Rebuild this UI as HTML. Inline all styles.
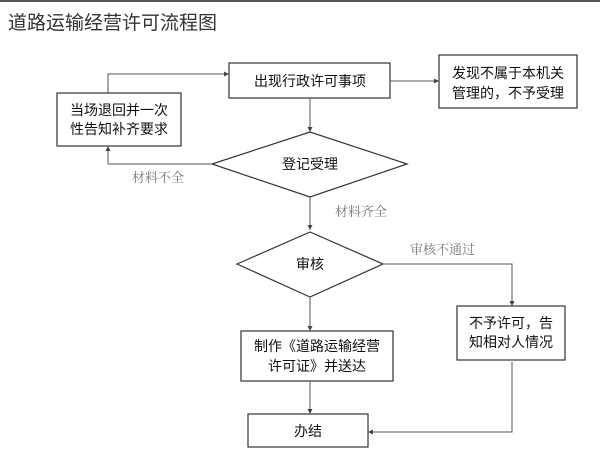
<!DOCTYPE html>
<html><head><meta charset="utf-8"><style>
body{margin:0;width:600px;height:455px;background:#fff;overflow:hidden;font-family:"Liberation Sans","Noto Sans CJK SC",sans-serif}
</style></head><body>
<svg width="600" height="455" xmlns="http://www.w3.org/2000/svg" font-family="Liberation Sans, Noto Sans CJK SC, sans-serif">
<defs><marker id="a" markerWidth="6" markerHeight="6" refX="5" refY="3" orient="auto"><path d="M0,0.5 L5,3 L0,5.5z" fill="#444"/></marker></defs>
<rect x="0" y="0" width="600" height="2" fill="#555"/>
<text x="8" y="29" font-size="19" fill="#333">道路运输经营许可流程图</text>
<g fill="#fff" stroke="#333" stroke-width="1.2">
<rect x="229" y="63" width="161" height="35"/>
<rect x="439" y="55" width="138" height="53"/>
<rect x="57" y="93" width="124" height="53"/>
<polygon points="212,164 310,132 407,164 310,197"/>
<polygon points="237,264 310,232 383,264 310,297"/>
<rect x="241" y="331" width="152" height="50"/>
<rect x="457" y="306" width="108" height="54"/>
<rect x="248" y="414" width="120" height="33"/>
</g>
<g fill="none" stroke="#555" stroke-width="1" marker-end="url(#a)">
<polyline points="108,93 108,74 229,74"/>
<line x1="390" y1="81" x2="439" y2="81"/>
<line x1="310" y1="98" x2="310" y2="132"/>
<polyline points="212,164 108,164 108,146"/>
<line x1="310" y1="197" x2="310" y2="230"/>
<polyline points="383,264 512,264 512,306"/>
<line x1="310" y1="297" x2="310" y2="331"/>
<line x1="310" y1="381" x2="310" y2="414"/>
<polyline points="512,362 512,432 368,432"/>
</g>
<g font-size="14" fill="#111" text-anchor="middle">
<text x="310" y="86">出现行政许可事项</text>
<text x="508" y="78">发现不属于本机关</text>
<text x="508" y="98">管理的，不予受理</text>
<text x="119" y="115">当场退回并一次</text>
<text x="119" y="134">性告知补齐要求</text>
<text x="310" y="169">登记受理</text>
<text x="310" y="269">审核</text>
<text x="317" y="351">制作《道路运输经营</text>
<text x="317" y="371">许可证》并送达</text>
<text x="511" y="328">不予许可，告</text>
<text x="511" y="347">知相对人情况</text>
<text x="308" y="436">办结</text>
</g>
<g font-size="13" fill="#777" font-family="Liberation Serif, Noto Serif CJK SC, serif">
<text x="132" y="182">材料不全</text>
<text x="335" y="216">材料齐全</text>
<text x="410" y="254">审核不通过</text>
</g>
</svg>
</body></html>
